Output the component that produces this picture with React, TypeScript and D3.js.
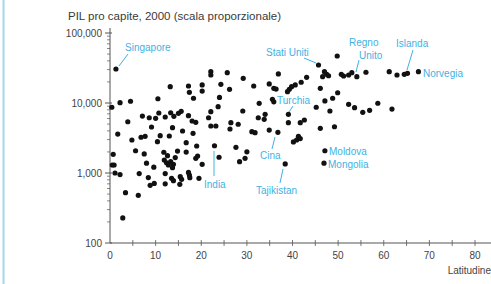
import { useRef, useEffect } from 'react';
import { select, scaleLinear, scaleLog, format, range } from 'd3';

// latitude, GDP per capita (2000)
const latitudes = [
  1.3, 13.2, 17.2, 17.4, 18.3, 20.2, 10.5, 0.4, 2.2, 4.5, 3.9, 7.1, 8.6, 10.0, 10.7, 12.1, 13.3, 14.0, 15.0, 15.6,
  17.2, 18.0, 18.8, 9.1, 13.7, 15.9, 18.2, 1.7, 4.8, 6.8, 7.7, 11.0, 10.4, 13.0, 16.7, 19.0, 0.7, 5.6, 7.5, 11.8,
  12.6, 14.8, 16.7, 18.8, 19.2, 0.5, 0.9, 8.0, 9.6, 11.9, 12.4, 12.8, 13.3, 13.9, 14.3, 13.7, 20.2, 1.1, 2.2, 6.4,
  8.4, 9.7, 8.8, 12.1, 13.5, 13.9, 12.1, 15.4, 15.7, 15.3, 17.2, 17.4, 17.5, 19.5, 3.4, 6.2, 2.8, 22.1, 22.1, 25.7,
  29.2, 36.9, 20.2, 24.3, 26.2, 31.5, 34.9, 35.9, 36.4, 24.0, 32.7, 35.6, 35.9, 23.7, 29.1, 22.1, 21.6, 32.5, 34.0, 33.8,
  39.1, 39.1, 26.5, 22.1, 23.2, 26.3, 28.1, 31.1, 31.8, 34.9, 36.8, 22.9, 23.9, 27.6, 30.0, 29.6, 28.4, 40.2, 38.4, 49.8,
  45.7, 47.0, 47.5, 46.6, 47.9, 50.7, 51.2, 52.3, 53.0, 54.1, 56.1, 43.1, 41.9, 40.6, 39.8, 39.3, 38.9, 46.1, 47.1, 48.8,
  49.9, 45.2, 48.2, 52.3, 53.6, 55.4, 56.9, 58.7, 41.7, 42.6, 46.1, 49.2, 41.3, 41.7, 40.9, 61.2, 62.9, 64.5, 65.2, 67.6,
  61.8, 47.1, 46.9,
];
const gdp = [
  30600, 17100, 17500, 14200, 11700, 18100, 11500, 8700, 10100, 10600, 5400, 6500, 6160, 6040, 7200, 6310, 7260, 6450, 7130, 7600,
  6590, 5530, 5300, 4540, 4440, 3980, 3690, 3600, 2960, 3240, 3340, 3410, 2800, 3380, 2710, 2430, 1850, 2080, 1870, 1980,
  1770, 2060, 1990, 1620, 1750, 1300, 1300, 1380, 1210, 1530, 1400, 1300, 1450, 1330, 1660, 1190, 1330, 1000, 950, 980,
  860, 710, 667, 980, 840, 776, 700, 885, 813, 690, 1020, 935, 857, 840, 523, 480, 228, 28000, 25100, 27100,
  22500, 26000, 14800, 18500, 15700, 17500, 18700, 16200, 15800, 12000, 9900, 11300, 10400, 8850, 7690, 7510, 6160, 6160, 6900, 5850,
  6900, 5240, 5240, 4690, 4690, 4250, 4970, 3890, 3770, 4110, 3810, 2450, 1680, 2330, 2010, 1620, 1450, 2780, 1350, 46900,
  34900, 28000, 25700, 23800, 24500, 25700, 24300, 25100, 27100, 23800, 27500, 23300, 19800, 18100, 17100, 15700, 14500, 16200, 10700, 11700,
  14000, 8690, 7690, 9580, 8570, 7360, 7870, 9910, 5240, 5720, 4350, 4580, 3350, 3100, 2960, 28000, 25100, 25700, 26500, 28000,
  8200, 2080, 1380,
];

const xTicks = [0, 10, 20, 30, 40, 50, 60, 70, 80];
const yTicks = [100, 1000, 10000, 100000];

// country labels: text position and leader line (x1, y1, x2, y2), in pixels
const labels = [
  { text: 'Singapore', x: 125, y: 47, line: [119, 66, 128, 54] },
  { text: 'Stati Uniti', x: 266, y: 52, line: [304, 58, 316, 63] },
  { text: 'Regno', x: 349, y: 42, line: null },
  { text: 'Unito', x: 359, y: 55, line: [359, 60, 356, 72] },
  { text: 'Islanda', x: 396, y: 43, line: [413, 50, 407, 70] },
  { text: 'Norvegia', x: 423, y: 73, line: null },
  { text: 'Turchia', x: 277, y: 100, line: [293, 106, 289, 112] },
  { text: 'Cina', x: 260, y: 155, line: [275, 137, 272, 149] },
  { text: 'India', x: 204, y: 184, line: [214, 151, 214, 176] },
  { text: 'Tajikistan', x: 256, y: 190, line: [283, 169, 280, 183] },
  { text: 'Moldova', x: 329, y: 151, line: null },
  { text: 'Mongolia', x: 328, y: 164, line: null },
];

const App = () => {
  const svgRef = useRef(null);

  useEffect(() => {
    const svg = select(svgRef.current);
    svg.selectAll('*').remove();

    const xScale = scaleLinear().domain([0, 80]).range([110, 475]);
    const yScale = scaleLog().domain([100, 100000]).range([243, 33]);
    const axisColor = '#555';
    const blue = '#3fb1e3';

    svg.append('line')
      .attr('x1', 3.5).attr('x2', 3.5).attr('y1', 0).attr('y2', 284)
      .attr('stroke', '#a6d6ef').attr('stroke-width', 2);

    svg.append('text')
      .attr('x', 68).attr('y', 20)
      .attr('font-size', 11.5).attr('fill', '#3a3a3a')
      .text('PIL pro capite, 2000 (scala proporzionale)');

    // y axis
    const y0 = yScale(100);
    svg.append('line')
      .attr('x1', 110).attr('x2', 110).attr('y1', 28).attr('y2', y0)
      .attr('stroke', axisColor);
    const minor = [];
    yTicks.slice(0, -1).forEach((d) => range(2, 10).forEach((m) => minor.push(d * m)));
    svg.selectAll('.ymin').data(minor).join('line')
      .attr('x1', 107).attr('x2', 110)
      .attr('y1', (d) => yScale(d)).attr('y2', (d) => yScale(d))
      .attr('stroke', axisColor).attr('stroke-width', 0.7);
    svg.selectAll('.ymaj').data(yTicks).join('line')
      .attr('x1', 105).attr('x2', 112)
      .attr('y1', (d) => yScale(d)).attr('y2', (d) => yScale(d))
      .attr('stroke', axisColor);
    svg.selectAll('.ylab').data(yTicks).join('text')
      .attr('x', 102).attr('y', (d) => yScale(d) + 3.5)
      .attr('text-anchor', 'end').attr('font-size', 10).attr('fill', '#444')
      .text((d) => format(',')(d));

    // x axis
    svg.append('line')
      .attr('x1', 110).attr('x2', 491).attr('y1', y0).attr('y2', y0)
      .attr('stroke', axisColor);
    svg.selectAll('.xt').data(range(5, 85, 5)).join('line')
      .attr('x1', (d) => xScale(d)).attr('x2', (d) => xScale(d))
      .attr('y1', y0 - 3).attr('y2', y0 + 3)
      .attr('stroke', axisColor).attr('stroke-width', 0.8);
    svg.selectAll('.xlab').data(xTicks).join('text')
      .attr('x', (d) => xScale(d)).attr('y', 259)
      .attr('text-anchor', 'middle').attr('font-size', 10).attr('fill', '#444')
      .text((d) => d);
    svg.append('text')
      .attr('x', 491).attr('y', 274).attr('text-anchor', 'end')
      .attr('font-size', 10).attr('fill', '#444').text('Latitudine');

    // points
    svg.selectAll('.pt').data(latitudes).join('circle')
      .attr('cx', (d) => xScale(d))
      .attr('cy', (d, i) => yScale(gdp[i]))
      .attr('r', 2.6).attr('fill', '#111');

    // annotations
    labels.forEach((l) => {
      if (l.line) {
        svg.append('line')
          .attr('x1', l.line[0]).attr('y1', l.line[1])
          .attr('x2', l.line[2]).attr('y2', l.line[3])
          .attr('stroke', blue).attr('stroke-width', 1);
      }
      svg.append('text')
        .attr('x', l.x).attr('y', l.y + 3.5)
        .attr('font-size', 10).attr('fill', blue).text(l.text);
    });
  }, []);

  return (
    <svg
      ref={svgRef}
      width={491}
      height={284}
      style={{ position: 'absolute', left: 0, top: 0, fontFamily: 'Liberation Sans, Arial, sans-serif', background: '#fff' }}
    />
  );
};

export default App;
